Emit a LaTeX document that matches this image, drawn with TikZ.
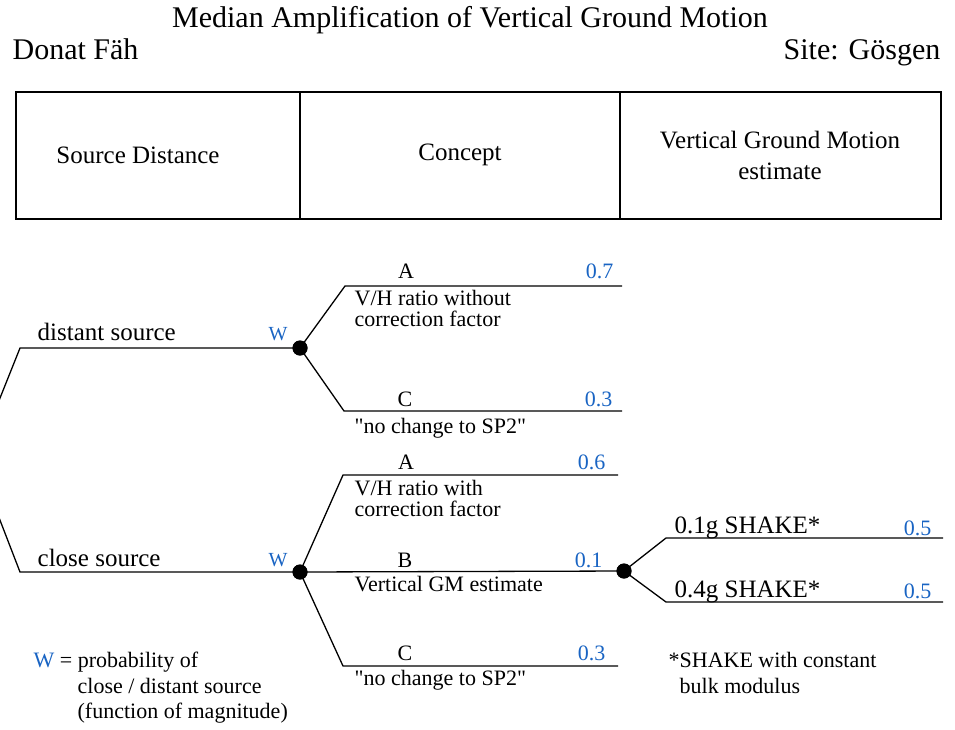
\documentclass[tikz,border=0pt]{standalone}
\usepackage{fontspec}
\setmainfont{Liberation Serif}[Ligatures=TeXOff]
\definecolor{wblue}{RGB}{25,100,195}
\begin{document}
\begin{tikzpicture}[x=1pt,y=-1pt,
  line width=1.3pt,
  dot/.style={circle,fill=black,inner sep=0pt,minimum size=15pt},
  big/.style={inner sep=0pt,font=\fontsize{30}{36}\selectfont},
  cell/.style={draw,inner sep=0pt,minimum height=127pt},
  head/.style={inner sep=0pt,align=center,font=\fontsize{25}{31}\selectfont},
  mid/.style={inner sep=0pt,anchor=base west,font=\fontsize{25}{30}\selectfont},
  lbl/.style={inner sep=0pt,anchor=base west,font=\fontsize{22}{26}\selectfont},
  letter/.style={inner sep=0pt,anchor=base,font=\fontsize{22}{26}\selectfont},
  prob/.style={inner sep=0pt,anchor=base east,text=wblue,font=\fontsize{22}{26}\selectfont},
  wlbl/.style={inner sep=0pt,anchor=base west,text=wblue,font=\fontsize{20}{24}\selectfont}]
\useasboundingbox (0,0) rectangle (955,729);
\clip (0,0) rectangle (955,729);

% heading
\node[big,anchor=base] (title) at (470,27) {Median Amplification of Vertical Ground Motion};
\node[big,anchor=base west] (author) at (12,59) {Donat Fäh};
\node[big,anchor=base east] (site) at (941,59) {Site: Gösgen};

% column headers
\node[cell,minimum width=284pt] (csrc) at (158,155.5) {};
\node[cell,minimum width=320pt] (ccon) at (460,155.5) {};
\node[cell,minimum width=321pt] (cvgm) at (780.5,155.5) {};
\node[head] (hsrc) at (138,155) {Source Distance};
\node[head] (hcon) at (460,155) {Concept};
\node[head] (hvgm) at (780,155) {Vertical Ground Motion\\estimate};

% branch points
\coordinate (root) at (-24,458);
\node[dot] (dfar) at (300,348) {};
\node[dot] (dnear) at (300,572) {};
\node[dot] (dgm) at (624,571) {};

% bends and free ends
\coordinate (kfar) at (20,348);
\coordinate (knear) at (20,572);
\coordinate (kfa) at (345,286);  \coordinate (efa) at (622,286);
\coordinate (kfc) at (344,411);  \coordinate (efc) at (622,411);
\coordinate (kna) at (343,475);  \coordinate (ena) at (618,475);
\coordinate (knc) at (343,666);  \coordinate (enc) at (618,666);
\coordinate (ks1) at (666,538);  \coordinate (es1) at (943,538);
\coordinate (ks4) at (666,602);  \coordinate (es4) at (943,602);

% source distance branches
\draw (root) -- (kfar) -- (dfar.center);
\draw (root) -- (knear) -- (dnear.center);

% concept branches, distant source
\draw (dfar.center) -- (kfa) -- (efa);
\draw (dfar.center) -- (kfc) -- (efc);

% concept branches, close source
\draw (dnear.center) -- (kna) -- (ena);
\draw (dnear.center) -- (dgm.center);
\draw (dnear.center) -- (knc) -- (enc);

% vertical ground motion branches
\draw (dgm.center) -- (ks1) -- (es1);
\draw (dgm.center) -- (ks4) -- (es4);

% redraw dots on top
\node[dot] at (dfar) {};
\node[dot] at (dnear) {};
\node[dot] at (dgm) {};

% labels: source distance
\node[mid] (tfar) at (37,340.5) {distant source};
\node[wlbl] (wfar) at (268,340) {W};
\node[mid] (tnear) at (37,566.5) {close source};
\node[wlbl] (wnear) at (268,566) {W};

% labels: distant source concepts
\node[letter] (lfa) at (406,278) {A};
\node[prob] (pfa) at (614,278) {0.7};
\node[lbl] (tfa1) at (354,305) {V/H ratio without};
\node[lbl] (tfa2) at (354,326) {correction factor};
\node[letter] (lfc) at (405,406) {C};
\node[prob] (pfc) at (613,406) {0.3};
\node[lbl] (tfc) at (354,433) {"no change to SP2"};

% labels: close source concepts
\node[letter] (lna) at (406,469) {A};
\node[prob] (pna) at (606,469) {0.6};
\node[lbl] (tna1) at (354,495) {V/H ratio with};
\node[lbl] (tna2) at (354,516) {correction factor};
\node[letter] (lnb) at (405,567) {B};
\node[prob] (pnb) at (603,567) {0.1};
\node[lbl] (tnb) at (354,591) {Vertical GM estimate};
\node[letter] (lnc) at (405,660.5) {C};
\node[prob] (pnc) at (606,660.5) {0.3};
\node[lbl] (tnc) at (354,685) {"no change to SP2"};

% labels: vertical ground motion estimates
\node[mid] (ts1) at (674,533) {0.1g SHAKE*};
\node[prob] (ps1) at (932,535) {0.5};
\node[mid] (ts4) at (674,597) {0.4g SHAKE*};
\node[prob] (ps4) at (932,598) {0.5};

% footnotes
\node[lbl] (note) at (668,667) {*SHAKE with constant};
\node[lbl] (note2) at (679,693) {bulk modulus};
\node[lbl] (leg1) at (33,667) {\textcolor{wblue}{W} = probability of};
\node[lbl] (leg2) at (77,693) {close / distant source};
\node[lbl] (leg3) at (77,718) {(function of magnitude)};
\end{tikzpicture}
\end{document}
